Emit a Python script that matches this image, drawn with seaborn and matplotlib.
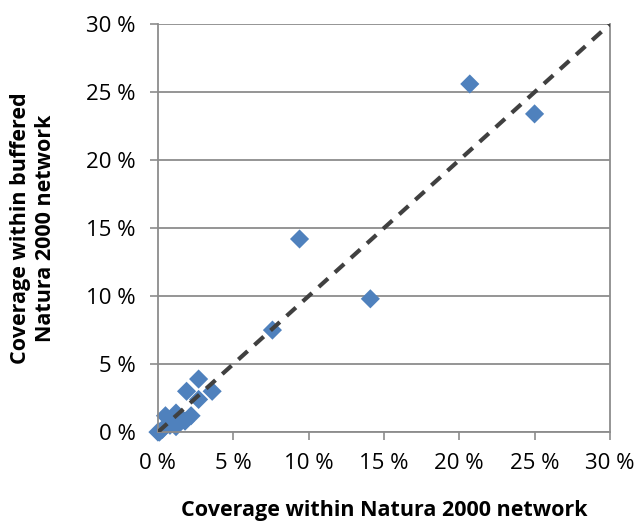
import numpy as np
import pandas as pd
import matplotlib
matplotlib.use('Agg')
import matplotlib.pyplot as plt
import seaborn as sns

# coverage values in percent
natura = [20.7, 25.0, 9.4, 14.1, 7.6, 2.7, 3.6, 1.9, 2.7, 2.2, 1.8, 1.2, 0.5, 1.2, 0.0, 0.3, 0.8, 1.5, 0.1]
buffered = [25.6, 23.4, 14.2, 9.8, 7.5, 3.9, 3.0, 3.0, 2.4, 1.2, 0.8, 1.4, 1.2, 0.4, 0.0, 0.2, 0.5, 1.0, 0.0]
ticks = [0, 5, 10, 15, 20, 25, 30]
tick_labels = [f"{t} %" for t in ticks]

df = pd.DataFrame({"natura": natura, "buffered": buffered})

sns.set_style("white")
plt.rcParams['font.family'] = ['Open Sans', 'DejaVu Sans']
plt.rcParams['text.color'] = 'black'
plt.rcParams['axes.labelcolor'] = 'black'

fig = plt.figure(figsize=(6.42, 5.25), dpi=100)
ax = fig.add_axes([0.246, 0.177, 0.704, 0.777])

# 1:1 reference line
ax.plot([0, 30], [0, 30], color='#404040', lw=3, ls=(0, (3, 2.2)), zorder=3)

sns.scatterplot(data=df, x="natura", y="buffered", marker='D', s=95,
                color='#4F81BD', edgecolor='none', ax=ax, zorder=2, clip_on=False)

ax.set_xlim(0, 30)
ax.set_ylim(0, 30)
ax.set_xticks(ticks)
ax.set_yticks(ticks)
ax.set_xticklabels(tick_labels, fontsize=16)
ax.set_yticklabels(tick_labels, fontsize=16)
ax.yaxis.grid(True, color='#8c8c8c', lw=1.3)
ax.xaxis.grid(False)
ax.set_axisbelow(True)
ax.tick_params(axis='both', length=6, width=1.2, color='#8c8c8c', direction='out',
               labelcolor='black', bottom=True, left=True)
ax.tick_params(axis='y', pad=10)
ax.tick_params(axis='x', pad=9)
for side in ['left', 'bottom', 'right']:
    ax.spines[side].set_color('#8c8c8c')
    ax.spines[side].set_linewidth(1.3)
ax.spines['top'].set_visible(False)

ax.set_xlabel("Coverage within Natura 2000 network", fontsize=15.5, fontweight='bold', labelpad=19)
ax.set_ylabel("Coverage within buffered\nNatura 2000 network", fontsize=15.5, fontweight='bold', labelpad=22)

fig.savefig("out.png", dpi=100)
